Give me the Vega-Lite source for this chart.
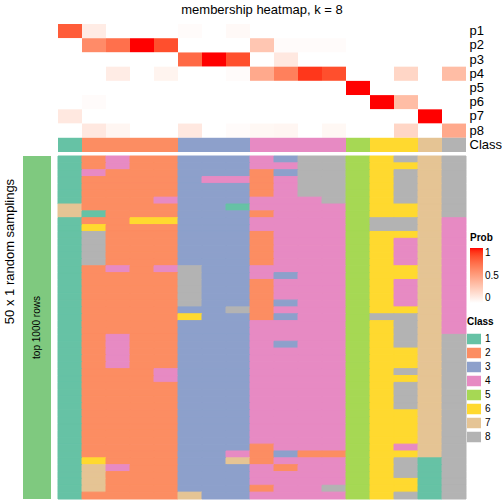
{
  "$schema": "https://vega.github.io/schema/vega-lite/v6.json",
  "padding": {"left": 3, "top": 4, "right": 0, "bottom": 0},
  "config": {
    "view": {"stroke": null},
    "font": "Liberation Sans",
    "legend": {"orient": "none", "titleFontSize": 10, "titleFontWeight": "bold", "labelFontSize": 10, "titleColor": "#000", "labelColor": "#000"}
  },
  "datasets": {
    "top": [
      {"s": "s1", "cls": 1, "p1": 0.8, "p2": 0, "p3": 0, "p4": 0, "p5": 0, "p6": 0, "p7": 0.12, "p8": 0},
      {"s": "s2", "cls": 2, "p1": 0.1, "p2": 0.6, "p3": 0, "p4": 0, "p5": 0, "p6": 0.02, "p7": 0, "p8": 0.12},
      {"s": "s3", "cls": 2, "p1": 0, "p2": 0.72, "p3": 0, "p4": 0.1, "p5": 0, "p6": 0, "p7": 0, "p8": 0.05},
      {"s": "s4", "cls": 2, "p1": 0, "p2": 1.0, "p3": 0, "p4": 0, "p5": 0, "p6": 0, "p7": 0, "p8": 0},
      {"s": "s5", "cls": 2, "p1": 0, "p2": 0.85, "p3": 0, "p4": 0.06, "p5": 0, "p6": 0, "p7": 0, "p8": 0},
      {"s": "s6", "cls": 3, "p1": 0.02, "p2": 0, "p3": 0.75, "p4": 0, "p5": 0, "p6": 0, "p7": 0, "p8": 0.12},
      {"s": "s7", "cls": 3, "p1": 0, "p2": 0, "p3": 1.0, "p4": 0, "p5": 0, "p6": 0, "p7": 0, "p8": 0},
      {"s": "s8", "cls": 3, "p1": 0.03, "p2": 0, "p3": 0.85, "p4": 0.02, "p5": 0, "p6": 0, "p7": 0, "p8": 0.02},
      {"s": "s9", "cls": 4, "p1": 0, "p2": 0.3, "p3": 0, "p4": 0.45, "p5": 0, "p6": 0, "p7": 0, "p8": 0.04},
      {"s": "s10", "cls": 4, "p1": 0, "p2": 0.02, "p3": 0.12, "p4": 0.65, "p5": 0, "p6": 0, "p7": 0, "p8": 0.05},
      {"s": "s11", "cls": 4, "p1": 0, "p2": 0.02, "p3": 0, "p4": 0.92, "p5": 0, "p6": 0, "p7": 0, "p8": 0},
      {"s": "s12", "cls": 4, "p1": 0, "p2": 0.02, "p3": 0, "p4": 0.85, "p5": 0, "p6": 0, "p7": 0, "p8": 0.04},
      {"s": "s13", "cls": 5, "p1": 0, "p2": 0, "p3": 0, "p4": 0, "p5": 1.0, "p6": 0, "p7": 0, "p8": 0},
      {"s": "s14", "cls": 6, "p1": 0, "p2": 0, "p3": 0, "p4": 0, "p5": 0, "p6": 1.0, "p7": 0, "p8": 0},
      {"s": "s15", "cls": 6, "p1": 0, "p2": 0, "p3": 0, "p4": 0.22, "p5": 0, "p6": 0.35, "p7": 0, "p8": 0.22},
      {"s": "s16", "cls": 7, "p1": 0, "p2": 0, "p3": 0, "p4": 0, "p5": 0, "p6": 0, "p7": 1.0, "p8": 0},
      {"s": "s17", "cls": 8, "p1": 0, "p2": 0, "p3": 0, "p4": 0.35, "p5": 0, "p6": 0, "p7": 0, "p8": 0.45}
    ],
    "bottom": [
      {"r": 1, "s1": 1, "s2": 2, "s3": 4, "s4": 2, "s5": 2, "s6": 3, "s7": 3, "s8": 3, "s9": 4, "s10": 3, "s11": 8, "s12": 8, "s13": 5, "s14": 6, "s15": 8, "s16": 7, "s17": 8},
      {"r": 2, "s1": 1, "s2": 2, "s3": 4, "s4": 2, "s5": 2, "s6": 3, "s7": 3, "s8": 3, "s9": 4, "s10": 4, "s11": 8, "s12": 8, "s13": 5, "s14": 6, "s15": 6, "s16": 7, "s17": 8},
      {"r": 3, "s1": 1, "s2": 4, "s3": 2, "s4": 2, "s5": 2, "s6": 3, "s7": 3, "s8": 3, "s9": 2, "s10": 3, "s11": 8, "s12": 8, "s13": 5, "s14": 6, "s15": 8, "s16": 7, "s17": 8},
      {"r": 4, "s1": 1, "s2": 2, "s3": 2, "s4": 2, "s5": 2, "s6": 3, "s7": 4, "s8": 4, "s9": 2, "s10": 4, "s11": 8, "s12": 8, "s13": 5, "s14": 6, "s15": 8, "s16": 7, "s17": 8},
      {"r": 5, "s1": 1, "s2": 2, "s3": 2, "s4": 2, "s5": 2, "s6": 3, "s7": 3, "s8": 3, "s9": 2, "s10": 4, "s11": 8, "s12": 8, "s13": 5, "s14": 6, "s15": 8, "s16": 7, "s17": 8},
      {"r": 6, "s1": 1, "s2": 2, "s3": 2, "s4": 2, "s5": 2, "s6": 3, "s7": 3, "s8": 3, "s9": 2, "s10": 4, "s11": 8, "s12": 8, "s13": 5, "s14": 6, "s15": 8, "s16": 7, "s17": 8},
      {"r": 7, "s1": 1, "s2": 2, "s3": 2, "s4": 2, "s5": 4, "s6": 3, "s7": 3, "s8": 3, "s9": 4, "s10": 4, "s11": 4, "s12": 8, "s13": 5, "s14": 6, "s15": 8, "s16": 7, "s17": 8},
      {"r": 8, "s1": 7, "s2": 2, "s3": 2, "s4": 2, "s5": 2, "s6": 3, "s7": 3, "s8": 1, "s9": 4, "s10": 4, "s11": 4, "s12": 4, "s13": 5, "s14": 6, "s15": 6, "s16": 7, "s17": 8},
      {"r": 9, "s1": 7, "s2": 1, "s3": 2, "s4": 2, "s5": 2, "s6": 3, "s7": 3, "s8": 3, "s9": 2, "s10": 4, "s11": 4, "s12": 4, "s13": 5, "s14": 6, "s15": 6, "s16": 7, "s17": 8},
      {"r": 10, "s1": 1, "s2": 2, "s3": 2, "s4": 6, "s5": 6, "s6": 3, "s7": 3, "s8": 3, "s9": 4, "s10": 4, "s11": 4, "s12": 4, "s13": 5, "s14": 8, "s15": 8, "s16": 7, "s17": 4},
      {"r": 11, "s1": 1, "s2": 6, "s3": 2, "s4": 2, "s5": 2, "s6": 3, "s7": 3, "s8": 3, "s9": 4, "s10": 4, "s11": 4, "s12": 4, "s13": 5, "s14": 8, "s15": 8, "s16": 7, "s17": 4},
      {"r": 12, "s1": 1, "s2": 8, "s3": 2, "s4": 2, "s5": 2, "s6": 3, "s7": 3, "s8": 3, "s9": 2, "s10": 4, "s11": 4, "s12": 4, "s13": 5, "s14": 6, "s15": 6, "s16": 7, "s17": 4},
      {"r": 13, "s1": 1, "s2": 8, "s3": 2, "s4": 2, "s5": 2, "s6": 3, "s7": 3, "s8": 3, "s9": 2, "s10": 4, "s11": 4, "s12": 4, "s13": 5, "s14": 6, "s15": 4, "s16": 7, "s17": 4},
      {"r": 14, "s1": 1, "s2": 8, "s3": 2, "s4": 2, "s5": 2, "s6": 3, "s7": 3, "s8": 3, "s9": 2, "s10": 4, "s11": 4, "s12": 4, "s13": 5, "s14": 6, "s15": 4, "s16": 7, "s17": 4},
      {"r": 15, "s1": 1, "s2": 8, "s3": 2, "s4": 2, "s5": 2, "s6": 3, "s7": 3, "s8": 3, "s9": 2, "s10": 4, "s11": 4, "s12": 4, "s13": 5, "s14": 6, "s15": 4, "s16": 7, "s17": 4},
      {"r": 16, "s1": 1, "s2": 8, "s3": 2, "s4": 2, "s5": 2, "s6": 3, "s7": 3, "s8": 3, "s9": 2, "s10": 4, "s11": 4, "s12": 4, "s13": 5, "s14": 6, "s15": 4, "s16": 7, "s17": 4},
      {"r": 17, "s1": 1, "s2": 2, "s3": 4, "s4": 2, "s5": 4, "s6": 8, "s7": 3, "s8": 3, "s9": 4, "s10": 4, "s11": 4, "s12": 4, "s13": 5, "s14": 6, "s15": 6, "s16": 7, "s17": 4},
      {"r": 18, "s1": 1, "s2": 2, "s3": 2, "s4": 2, "s5": 2, "s6": 8, "s7": 3, "s8": 3, "s9": 4, "s10": 3, "s11": 4, "s12": 4, "s13": 5, "s14": 6, "s15": 6, "s16": 7, "s17": 4},
      {"r": 19, "s1": 1, "s2": 2, "s3": 2, "s4": 2, "s5": 2, "s6": 8, "s7": 3, "s8": 3, "s9": 2, "s10": 4, "s11": 4, "s12": 4, "s13": 5, "s14": 6, "s15": 4, "s16": 7, "s17": 4},
      {"r": 20, "s1": 1, "s2": 2, "s3": 2, "s4": 2, "s5": 2, "s6": 8, "s7": 3, "s8": 3, "s9": 2, "s10": 4, "s11": 4, "s12": 4, "s13": 5, "s14": 6, "s15": 4, "s16": 7, "s17": 4},
      {"r": 21, "s1": 1, "s2": 2, "s3": 2, "s4": 2, "s5": 2, "s6": 8, "s7": 3, "s8": 3, "s9": 2, "s10": 4, "s11": 4, "s12": 4, "s13": 5, "s14": 6, "s15": 4, "s16": 7, "s17": 4},
      {"r": 22, "s1": 1, "s2": 2, "s3": 2, "s4": 2, "s5": 2, "s6": 8, "s7": 3, "s8": 3, "s9": 2, "s10": 3, "s11": 4, "s12": 4, "s13": 5, "s14": 6, "s15": 4, "s16": 7, "s17": 4},
      {"r": 23, "s1": 1, "s2": 2, "s3": 2, "s4": 2, "s5": 2, "s6": 3, "s7": 3, "s8": 8, "s9": 2, "s10": 4, "s11": 4, "s12": 4, "s13": 5, "s14": 6, "s15": 6, "s16": 7, "s17": 4},
      {"r": 24, "s1": 1, "s2": 2, "s3": 2, "s4": 2, "s5": 2, "s6": 6, "s7": 3, "s8": 3, "s9": 2, "s10": 3, "s11": 4, "s12": 4, "s13": 5, "s14": 8, "s15": 8, "s16": 7, "s17": 4},
      {"r": 25, "s1": 1, "s2": 2, "s3": 2, "s4": 2, "s5": 2, "s6": 3, "s7": 3, "s8": 3, "s9": 4, "s10": 4, "s11": 4, "s12": 4, "s13": 5, "s14": 6, "s15": 8, "s16": 7, "s17": 4},
      {"r": 26, "s1": 1, "s2": 2, "s3": 2, "s4": 2, "s5": 2, "s6": 3, "s7": 3, "s8": 3, "s9": 4, "s10": 4, "s11": 4, "s12": 4, "s13": 5, "s14": 6, "s15": 8, "s16": 7, "s17": 4},
      {"r": 27, "s1": 1, "s2": 2, "s3": 4, "s4": 2, "s5": 2, "s6": 3, "s7": 3, "s8": 3, "s9": 4, "s10": 4, "s11": 4, "s12": 4, "s13": 5, "s14": 6, "s15": 8, "s16": 7, "s17": 8},
      {"r": 28, "s1": 1, "s2": 2, "s3": 4, "s4": 2, "s5": 2, "s6": 3, "s7": 3, "s8": 3, "s9": 4, "s10": 3, "s11": 4, "s12": 4, "s13": 5, "s14": 6, "s15": 8, "s16": 7, "s17": 8},
      {"r": 29, "s1": 1, "s2": 2, "s3": 4, "s4": 2, "s5": 2, "s6": 3, "s7": 3, "s8": 3, "s9": 4, "s10": 4, "s11": 4, "s12": 4, "s13": 5, "s14": 6, "s15": 6, "s16": 7, "s17": 8},
      {"r": 30, "s1": 1, "s2": 2, "s3": 4, "s4": 2, "s5": 2, "s6": 3, "s7": 3, "s8": 3, "s9": 4, "s10": 4, "s11": 4, "s12": 4, "s13": 5, "s14": 6, "s15": 6, "s16": 7, "s17": 8},
      {"r": 31, "s1": 1, "s2": 2, "s3": 4, "s4": 2, "s5": 2, "s6": 3, "s7": 3, "s8": 3, "s9": 4, "s10": 4, "s11": 4, "s12": 4, "s13": 5, "s14": 6, "s15": 6, "s16": 7, "s17": 8},
      {"r": 32, "s1": 1, "s2": 2, "s3": 2, "s4": 2, "s5": 4, "s6": 3, "s7": 3, "s8": 3, "s9": 4, "s10": 4, "s11": 4, "s12": 4, "s13": 5, "s14": 6, "s15": 8, "s16": 7, "s17": 8},
      {"r": 33, "s1": 1, "s2": 2, "s3": 2, "s4": 2, "s5": 4, "s6": 3, "s7": 3, "s8": 3, "s9": 4, "s10": 4, "s11": 4, "s12": 4, "s13": 5, "s14": 6, "s15": 6, "s16": 7, "s17": 8},
      {"r": 34, "s1": 1, "s2": 2, "s3": 2, "s4": 2, "s5": 2, "s6": 3, "s7": 3, "s8": 3, "s9": 4, "s10": 4, "s11": 4, "s12": 4, "s13": 5, "s14": 6, "s15": 8, "s16": 7, "s17": 8},
      {"r": 35, "s1": 1, "s2": 2, "s3": 2, "s4": 2, "s5": 2, "s6": 3, "s7": 3, "s8": 3, "s9": 4, "s10": 4, "s11": 4, "s12": 4, "s13": 5, "s14": 6, "s15": 8, "s16": 7, "s17": 8},
      {"r": 36, "s1": 1, "s2": 2, "s3": 2, "s4": 2, "s5": 2, "s6": 3, "s7": 3, "s8": 3, "s9": 4, "s10": 4, "s11": 4, "s12": 4, "s13": 5, "s14": 6, "s15": 8, "s16": 7, "s17": 8},
      {"r": 37, "s1": 1, "s2": 2, "s3": 2, "s4": 2, "s5": 2, "s6": 3, "s7": 3, "s8": 3, "s9": 4, "s10": 4, "s11": 4, "s12": 4, "s13": 5, "s14": 6, "s15": 8, "s16": 7, "s17": 8},
      {"r": 38, "s1": 1, "s2": 2, "s3": 2, "s4": 2, "s5": 2, "s6": 3, "s7": 3, "s8": 3, "s9": 4, "s10": 4, "s11": 4, "s12": 4, "s13": 5, "s14": 6, "s15": 6, "s16": 7, "s17": 8},
      {"r": 39, "s1": 1, "s2": 2, "s3": 2, "s4": 2, "s5": 2, "s6": 3, "s7": 3, "s8": 3, "s9": 4, "s10": 4, "s11": 4, "s12": 4, "s13": 5, "s14": 6, "s15": 6, "s16": 7, "s17": 8},
      {"r": 40, "s1": 1, "s2": 2, "s3": 2, "s4": 2, "s5": 2, "s6": 3, "s7": 3, "s8": 3, "s9": 4, "s10": 4, "s11": 4, "s12": 4, "s13": 5, "s14": 6, "s15": 6, "s16": 7, "s17": 8},
      {"r": 41, "s1": 1, "s2": 2, "s3": 2, "s4": 2, "s5": 2, "s6": 3, "s7": 3, "s8": 3, "s9": 4, "s10": 4, "s11": 4, "s12": 4, "s13": 5, "s14": 6, "s15": 6, "s16": 7, "s17": 8},
      {"r": 42, "s1": 1, "s2": 2, "s3": 2, "s4": 2, "s5": 2, "s6": 3, "s7": 3, "s8": 3, "s9": 4, "s10": 4, "s11": 4, "s12": 4, "s13": 5, "s14": 6, "s15": 6, "s16": 7, "s17": 8},
      {"r": 43, "s1": 1, "s2": 2, "s3": 2, "s4": 2, "s5": 2, "s6": 3, "s7": 3, "s8": 3, "s9": 2, "s10": 4, "s11": 4, "s12": 4, "s13": 5, "s14": 6, "s15": 4, "s16": 7, "s17": 8},
      {"r": 44, "s1": 1, "s2": 2, "s3": 2, "s4": 2, "s5": 2, "s6": 3, "s7": 3, "s8": 4, "s9": 2, "s10": 3, "s11": 2, "s12": 2, "s13": 5, "s14": 6, "s15": 6, "s16": 7, "s17": 8},
      {"r": 45, "s1": 1, "s2": 6, "s3": 2, "s4": 2, "s5": 2, "s6": 3, "s7": 3, "s8": 7, "s9": 2, "s10": 4, "s11": 4, "s12": 4, "s13": 5, "s14": 6, "s15": 8, "s16": 1, "s17": 8},
      {"r": 46, "s1": 1, "s2": 7, "s3": 4, "s4": 2, "s5": 2, "s6": 3, "s7": 3, "s8": 3, "s9": 4, "s10": 2, "s11": 4, "s12": 4, "s13": 5, "s14": 6, "s15": 8, "s16": 1, "s17": 8},
      {"r": 47, "s1": 1, "s2": 7, "s3": 2, "s4": 2, "s5": 2, "s6": 3, "s7": 3, "s8": 3, "s9": 4, "s10": 4, "s11": 4, "s12": 4, "s13": 5, "s14": 6, "s15": 8, "s16": 1, "s17": 8},
      {"r": 48, "s1": 1, "s2": 7, "s3": 2, "s4": 2, "s5": 2, "s6": 3, "s7": 3, "s8": 3, "s9": 4, "s10": 4, "s11": 4, "s12": 4, "s13": 5, "s14": 6, "s15": 6, "s16": 1, "s17": 8},
      {"r": 49, "s1": 1, "s2": 7, "s3": 2, "s4": 2, "s5": 2, "s6": 3, "s7": 3, "s8": 3, "s9": 2, "s10": 4, "s11": 4, "s12": 8, "s13": 5, "s14": 6, "s15": 6, "s16": 1, "s17": 8},
      {"r": 50, "s1": 1, "s2": 2, "s3": 2, "s4": 2, "s5": 2, "s6": 7, "s7": 3, "s8": 3, "s9": 4, "s10": 4, "s11": 4, "s12": 4, "s13": 5, "s14": 6, "s15": 8, "s16": 1, "s17": 8}
    ],
    "anno": [{"g": "top 1000 rows"}],
    "none": []
  },
  "columns": 2,
  "spacing": {"row": 3, "column": 6},
  "concat": [
    {
      "width": 28, "height": 128,
      "data": {"name": "none"},
      "mark": "rect",
      "encoding": {}
    },
    {
      "width": 408, "height": 128,
      "title": {"text": "membership heatmap, k = 8", "fontSize": 13, "fontWeight": "normal", "offset": 7, "color": "#000"},
      "data": {"name": "top"},
      "encoding": {
        "x": {"field": "s", "type": "nominal", "axis": null, "scale": {"domain": ["s1","s2","s3","s4","s5","s6","s7","s8","s9","s10","s11","s12","s13","s14","s15","s16","s17"]}}
      },
      "layer": [
        {
          "transform": [{"fold": ["p1","p2","p3","p4","p5","p6","p7","p8"], "as": ["row", "prob"]}],
          "mark": "rect",
          "encoding": {
            "y": {"field": "row", "type": "nominal", "scale": {"domain": ["p1","p2","p3","p4","p5","p6","p7","p8","Class"]},
                  "axis": {"orient": "right", "title": null, "ticks": false, "domain": false, "labelFontSize": 13, "labelPadding": 3, "labelColor": "#000"}},
            "fill": {"field": "prob", "type": "quantitative", "title": "Prob",
                     "scale": {"domain": [0, 1], "range": ["#FFFFFF", "#FF0000"], "interpolate": "lab"},
                     "legend": {"values": [0, 0.5, 1], "format": "~g", "gradientLength": 55, "gradientThickness": 13, "gradientStrokeWidth": 0, "legendX": 447, "legendY": 209}}
          }
        },
        {
          "mark": "rect",
          "encoding": {
            "y": {"datum": "Class", "type": "nominal"},
            "color": {"field": "cls", "type": "nominal", "title": "Class",
                      "scale": {"domain": [1,2,3,4,5,6,7,8], "range": ["#66C2A5","#FC8D62","#8DA0CB","#E78AC3","#A6D854","#FFD92F","#E5C494","#B3B3B3"]},
                      "legend": {"symbolType": "M-1,-0.75H1V0.75H-1Z", "symbolSize": 196, "symbolStrokeWidth": 0, "symbolOpacity": 1, "rowPadding": 1, "legendX": 444, "legendY": 293}}
          }
        }
      ]
    },
    {
      "width": 28, "height": 343,
      "data": {"name": "anno"},
      "encoding": {
        "y": {"field": "g", "type": "nominal", "axis": {"title": "50 x 1 random samplings", "labels": false, "ticks": false, "domain": false, "titleFontSize": 13, "titleFontWeight": "normal", "titlePadding": 7, "titleY": 95, "titleColor": "#000"}}
      },
      "layer": [
        {"mark": {"type": "rect", "color": "#7FC97F"}},
        {"mark": {"type": "text", "angle": 270, "fontSize": 10, "color": "#000"}, "encoding": {"text": {"field": "g"}}}
      ]
    },
    {
      "width": 408, "height": 343,
      "data": {"name": "bottom"},
      "transform": [{"fold": ["s1","s2","s3","s4","s5","s6","s7","s8","s9","s10","s11","s12","s13","s14","s15","s16","s17"], "as": ["s", "cls"]}],
      "mark": {"type": "rect", "strokeWidth": 1},
      "encoding": {
        "x": {"field": "s", "type": "nominal", "axis": null, "scale": {"domain": ["s1","s2","s3","s4","s5","s6","s7","s8","s9","s10","s11","s12","s13","s14","s15","s16","s17"]}},
        "y": {"field": "r", "type": "ordinal", "axis": null},
        "color": {"field": "cls", "type": "nominal", "title": "Class",
                  "scale": {"domain": [1,2,3,4,5,6,7,8], "range": ["#66C2A5","#FC8D62","#8DA0CB","#E78AC3","#A6D854","#FFD92F","#E5C494","#B3B3B3"]}},
        "stroke": {"field": "cls", "type": "nominal", "legend": null,
                  "scale": {"domain": [1,2,3,4,5,6,7,8], "range": ["#66C2A5","#FC8D62","#8DA0CB","#E78AC3","#A6D854","#FFD92F","#E5C494","#B3B3B3"]}}
      }
    }
  ]
}
